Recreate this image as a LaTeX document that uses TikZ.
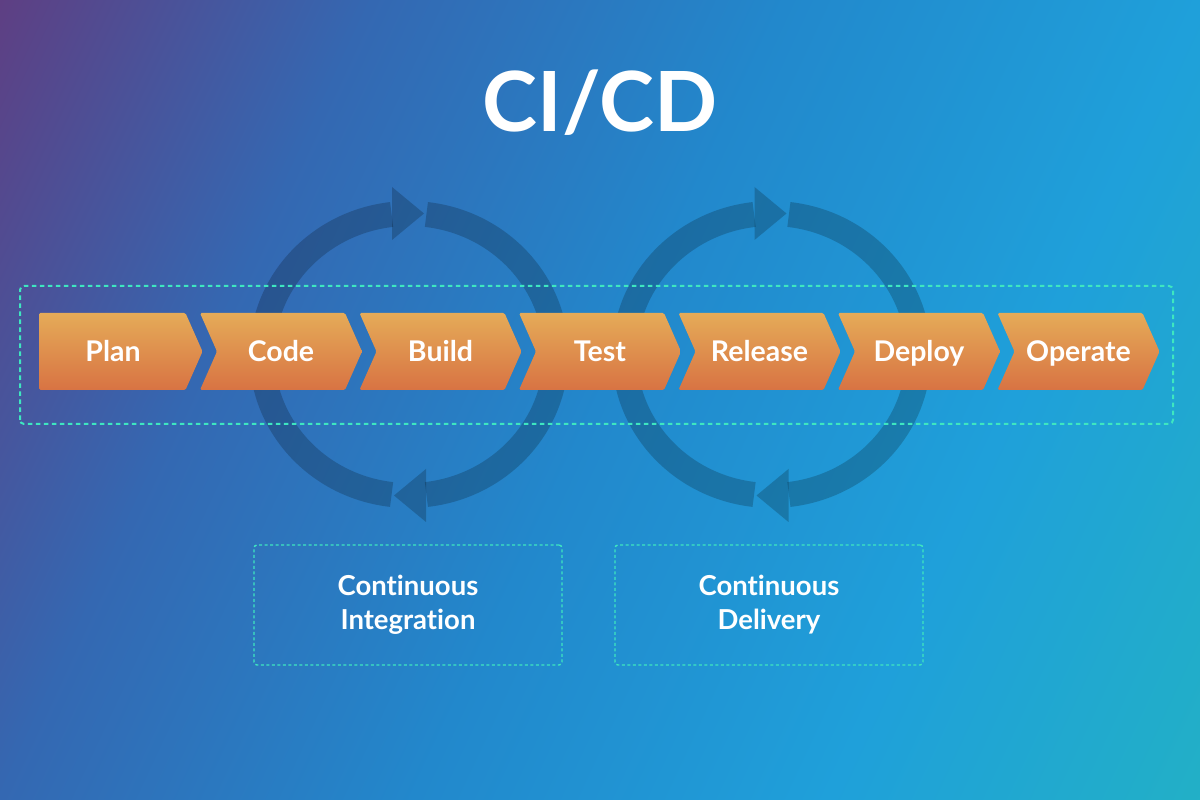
\documentclass[tikz,border=0pt]{standalone}
\usepackage{fontspec}
\setmainfont{Lato}[Ligatures={NoCommon}]
\definecolor{bgpurple}{RGB}{95,62,130}
\definecolor{bgindigo}{RGB}{52,104,178}
\definecolor{bgblue}{RGB}{34,136,204}
\definecolor{bgsky}{RGB}{31,160,218}
\definecolor{bgteal}{RGB}{34,176,198}
\definecolor{chevtop}{RGB}{229,171,88}
\definecolor{chevbot}{RGB}{216,115,67}
\definecolor{dashteal}{RGB}{62,230,192}
\pgfdeclarehorizontalshading{skyshade}{100bp}{color(0bp)=(bgpurple); color(26bp)=(bgpurple); color(37.5bp)=(bgindigo); color(50bp)=(bgblue); color(62.5bp)=(bgsky); color(74bp)=(bgteal); color(100bp)=(bgteal)}

\begin{document}
\begin{tikzpicture}[x=1pt, y=1pt]

        % Styles
        \tikzset{
            chevron/.style={top color=chevtop, bottom color=chevbot, rounded corners=1.5pt},
            stagelabel/.style={anchor=base, text=white, font=\fontsize{28.5}{30}\selectfont\bfseries},
            ringband/.style={draw=black, draw opacity=0.2, line width=25pt},
            ringhead/.style={fill=black, fill opacity=0.2},
            pipeframe/.style={draw=dashteal, line width=2pt, dash pattern=on 4.5pt off 3.5pt, rounded corners=4pt},
            phasebox/.style={draw=dashteal, line width=1.4pt, dash pattern=on 3pt off 2.5pt, rounded corners=3pt, minimum width=308pt, minimum height=120pt, align=center, text=white, font=\fontsize{27.5}{34}\selectfont\bfseries},
            bigtitle/.style={anchor=base, text=white, font=\fontsize{83}{90}\selectfont\bfseries}
        }

        % --- FOND ---
        \useasboundingbox (0,0) rectangle (1200,800);
        \begin{scope}
            \clip (0,0) rectangle (1200,800);
            \shade[shading=skyshade, shading angle=-25] (-150,-350) rectangle (1350,1150);
        \end{scope}

        % --- BOUCLES (CI a gauche, CD a droite) ---
        \draw[ringband] (409,445.5) ++(83.2:147 and 141) arc[start angle=83.2, end angle=-83.2, x radius=147, y radius=141];
        \fill[ringhead] (426,331) -- (394,304.5) -- (426,278) -- cycle;
        \draw[ringband] (409,445.5) ++(263.2:147 and 141) arc[start angle=263.2, end angle=96.8, x radius=147, y radius=141];
        \fill[ringhead] (392,613) -- (424,586.5) -- (392,560) -- cycle;

        \draw[ringband] (771.5,445.5) ++(83.2:147 and 141) arc[start angle=83.2, end angle=-83.2, x radius=147, y radius=141];
        \fill[ringhead] (788.5,331) -- (756.5,304.5) -- (788.5,278) -- cycle;
        \draw[ringband] (771.5,445.5) ++(263.2:147 and 141) arc[start angle=263.2, end angle=96.8, x radius=147, y radius=141];
        \fill[ringhead] (754.5,613) -- (786.5,586.5) -- (754.5,560) -- cycle;

        % --- CADRE POINTILLE DU PIPELINE ---
        \draw[pipeframe] (20,376) rectangle (1173,514);

        % --- ETAPES ---
        \shade[chevron] (39,487) -- (185.5,487) -- ++(17,-38.5) -- ++(-17,-38.5) -- (39,410) -- cycle;
        \shade[chevron] (200,487) -- ++(145,0) -- ++(17,-38.5) -- ++(-17,-38.5) -- ++(-145,0) -- ++(17,38.5) -- cycle;
        \shade[chevron] (359.5,487) -- ++(145,0) -- ++(17,-38.5) -- ++(-17,-38.5) -- ++(-145,0) -- ++(17,38.5) -- cycle;
        \shade[chevron] (519,487) -- ++(145,0) -- ++(17,-38.5) -- ++(-17,-38.5) -- ++(-145,0) -- ++(17,38.5) -- cycle;
        \shade[chevron] (678.5,487) -- ++(145,0) -- ++(17,-38.5) -- ++(-17,-38.5) -- ++(-145,0) -- ++(17,38.5) -- cycle;
        \shade[chevron] (838,487) -- ++(145,0) -- ++(17,-38.5) -- ++(-17,-38.5) -- ++(-145,0) -- ++(17,38.5) -- cycle;
        \shade[chevron] (997.5,487) -- ++(145,0) -- ++(17,-38.5) -- ++(-17,-38.5) -- ++(-145,0) -- ++(17,38.5) -- cycle;

        \node[stagelabel] (plan) at (113,438) {Plan};
        \node[stagelabel] (code) at (281,438) {Code};
        \node[stagelabel] (build) at (440.5,438) {Build};
        \node[stagelabel] (test) at (600,438) {Test};
        \node[stagelabel] (release) at (759.5,438) {Release};
        \node[stagelabel] (deploy) at (919,438) {Deploy};
        \node[stagelabel] (operate) at (1078.5,438) {Operate};

        % --- PHASES ---
        \node[phasebox] (ci) at (408,195) {Continuous\\Integration};
        \node[phasebox] (cd) at (769,195) {Continuous\\Delivery};

        % --- TITRE ---
        \node[bigtitle] (cicd) at (600,668) {CI/CD};

\end{tikzpicture}
\end{document}
